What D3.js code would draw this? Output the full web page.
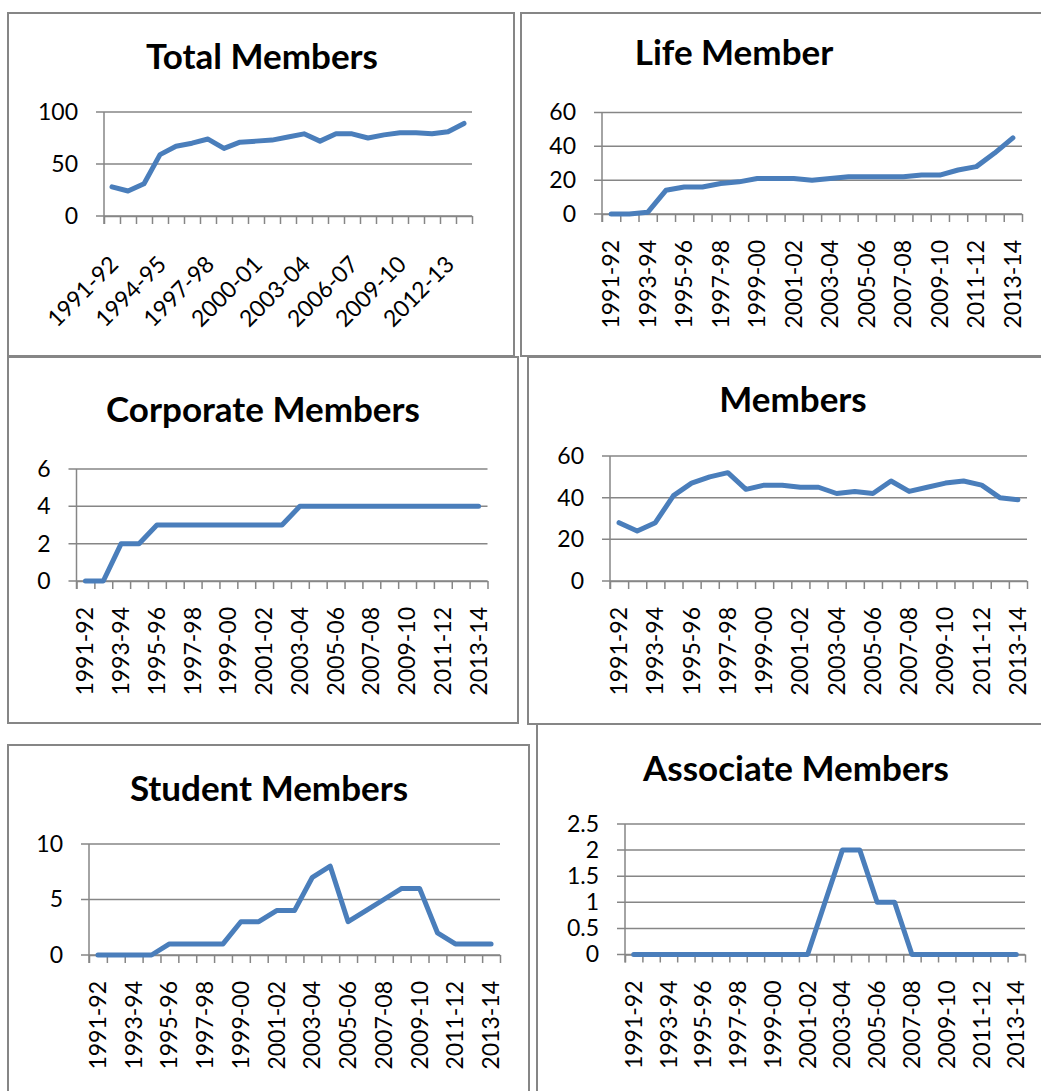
<!DOCTYPE html>
<html>
<head>
<meta charset="utf-8">
<script src="https://cdn.jsdelivr.net/npm/d3@7"></script>
<style>
  body { margin: 0; background: #fff; }
  svg { display: block; font-family: Lato, "Open Sans", sans-serif; }
</style>
</head>
<body>
<svg id="chart" width="1041" height="1091"></svg>
<script>
// categories (financial years)
var years = ["1991-92","1992-93","1993-94","1994-95","1995-96","1996-97","1997-98","1998-99",
  "1999-00","2000-01","2001-02","2002-03","2003-04","2004-05","2005-06","2006-07","2007-08",
  "2008-09","2009-10","2010-11","2011-12","2012-13","2013-14"];

// series
var totalMembers     = [28,24,31,59,67,70,74,65,71,72,73,76,79,72,79,79,75,78,80,80,79,81,89];
var lifeMembers      = [0,0,1,14,16,16,18,19,21,21,21,20,21,22,22,22,22,23,23,26,28,36,45];
var corporateMembers = [0,0,2,2,3,3,3,3,3,3,3,3,4,4,4,4,4,4,4,4,4,4,4];
var members          = [28,24,28,41,47,50,52,44,46,46,45,45,42,43,42,48,43,45,47,48,46,40,39];
var studentMembers   = [0,0,0,0,1,1,1,1,3,3,4,4,7,8,3,4,5,6,6,2,1,1,1];
var associateMembers = [0,0,0,0,0,0,0,0,0,0,0,1,2,2,1,1,0,0,0,0,0,0,0];

// y tick labels
var totalTicks     = [0,50,100];
var lifeTicks      = [0,20,40,60];
var corporateTicks = [0,2,4,6];
var memberTicks    = [0,20,40,60];
var studentTicks   = [0,5,10];
var associateTicks = [0,0.5,1,1.5,2,2.5];

var titles = ["Total Members","Life Member","Corporate Members","Members","Student Members","Associate Members"];

// panel layout (box, plot area, title spot)
var panels = [
  {box:[8,13,514,356],    px:[104,472],  py:[112,216],   tx:262, ty:69,  values:totalMembers,     ticks:totalTicks,     every:3, rot:-45},
  {box:[521,13,1050,356], px:[602,1022], py:[112.5,214], tx:734, ty:65,  values:lifeMembers,      ticks:lifeTicks,      every:2, rot:-90},
  {box:[8,357,518,723],   px:[76.5,487.5], py:[469,581], tx:263, ty:422, values:corporateMembers, ticks:corporateTicks, every:2, rot:-90},
  {box:[528,357,1050,724],px:[610,1027], py:[456,581],   tx:793, ty:412, values:members,          ticks:memberTicks,    every:2, rot:-90},
  {box:[8,745,529,1100],  px:[89,500],   py:[844,955],   tx:269, ty:801, values:studentMembers,   ticks:studentTicks,   every:2, rot:-90},
  {box:[537,724,1050,1100],px:[625,1025],py:[824,954.5], tx:796, ty:781, values:associateMembers, ticks:associateTicks, every:2, rot:-90}
];

var gray = "#868686";
var blue = "#4A7EBB";

var svg = d3.select("#chart");
svg.append("rect").attr("width",1041).attr("height",1091).attr("fill","#fff");

panels.forEach(function(p, i) {
  var g = svg.append("g");

  // frame
  g.append("rect")
    .attr("x", p.box[0]).attr("y", p.box[1])
    .attr("width", p.box[2]-p.box[0]).attr("height", p.box[3]-p.box[1])
    .attr("fill", "none").attr("stroke", gray).attr("stroke-width", 2);

  // title
  g.append("text")
    .attr("x", p.tx).attr("y", p.ty)
    .attr("text-anchor", "middle")
    .style("font-size", "35px").style("font-weight", "bold")
    .text(titles[i]);

  var x = d3.scaleBand().domain(years).range(p.px).padding(0);
  var xEdge = d3.scaleLinear().domain([0, years.length]).range(p.px);
  var y = d3.scaleLinear().domain([0, d3.max(p.ticks)]).range([p.py[1], p.py[0]]);

  // gridlines (stick out 8px left of the axis)
  g.selectAll(".grid").data(p.ticks).enter().append("line")
    .attr("x1", p.px[0]-8).attr("x2", p.px[1])
    .attr("y1", function(d){ return y(d); }).attr("y2", function(d){ return y(d); })
    .attr("stroke", gray).attr("stroke-width", 1.5);

  // y labels
  var yAxis = g.append("g").attr("transform", "translate(" + p.px[0] + ",0)")
    .call(d3.axisLeft(y).tickValues(p.ticks).tickFormat(function(d){ return String(d); })
      .tickSize(0).tickPadding(26));
  yAxis.select(".domain").remove();
  yAxis.selectAll("text").style("font-size", "23px").attr("fill", "#000").style("font-family", "Lato");

  // y axis line
  g.append("line")
    .attr("x1", p.px[0]).attr("x2", p.px[0])
    .attr("y1", p.py[0]).attr("y2", p.py[1]+8)
    .attr("stroke", gray).attr("stroke-width", 1.5);

  // category boundary ticks
  var xTicks = g.append("g").attr("transform", "translate(0," + p.py[1] + ")")
    .call(d3.axisBottom(xEdge).tickValues(d3.range(years.length+1)).tickSize(8).tickSizeOuter(0).tickFormat(""));
  xTicks.select(".domain").attr("stroke", gray).attr("stroke-width", 1.5);
  xTicks.selectAll(".tick line").attr("stroke", gray).attr("stroke-width", 1.5);

  // category labels
  var shown = years.filter(function(d, k){ return k % p.every == 0; });
  var xAxis = g.append("g").attr("transform", "translate(0," + p.py[1] + ")")
    .call(d3.axisBottom(x).tickValues(shown).tickSize(0));
  xAxis.select(".domain").remove();
  if (p.rot == -45) {
    xAxis.selectAll("text")
      .attr("y", 0).attr("dy", "0.35em")
      .attr("transform", "translate(2,44) rotate(-45)")
      .style("text-anchor", "end");
  } else {
    xAxis.selectAll("text")
      .attr("y", 0).attr("x", 0).attr("dy", "0.35em")
      .attr("transform", "translate(0,26) rotate(-90)")
      .style("text-anchor", "end");
  }
  xAxis.selectAll("text").style("font-size", "23px").attr("fill", "#000").style("font-family", "Lato");

  // the series line
  var line = d3.line()
    .x(function(d, k){ return x(years[k]) + x.bandwidth()/2; })
    .y(function(d){ return y(d); });

  g.append("path")
    .datum(p.values)
    .attr("d", line)
    .attr("fill", "none")
    .attr("stroke", blue)
    .attr("stroke-width", 5)
    .attr("stroke-linejoin", "round")
    .attr("stroke-linecap", "round");
});
</script>
</body>
</html>
